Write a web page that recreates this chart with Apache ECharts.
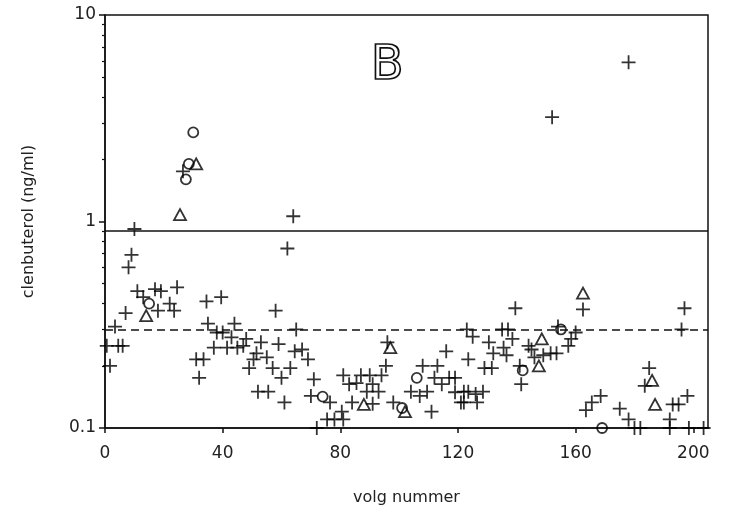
<!DOCTYPE html>
<html>
<head>
<meta charset="utf-8">
<script src="https://cdn.jsdelivr.net/npm/echarts@6/dist/echarts.min.js"></script>
<style>html,body{margin:0;padding:0;background:#fff}#c{width:735px;height:524px}</style>
</head>
<body>
<div id="c"></div>
<script>
// ---- data ----
const plusPoints = [
  [178, 5.9], [152, 3.2], [26.5, 1.75], [64, 1.06], [10, 0.92], [62, 0.74],
  [9, 0.69], [8, 0.60], [11, 0.46], [13, 0.43], [17, 0.47], [19, 0.46], [24.5, 0.48], [22, 0.40], [23.5, 0.37], [18, 0.37], [7, 0.36], [3.4, 0.31], [0.6, 0.25], [4.5, 0.25], [6, 0.25], [1.7, 0.20],
  [34.5, 0.41], [39.5, 0.43], [35, 0.32], [38, 0.29], [40, 0.29], [37, 0.245], [31, 0.215], [33.5, 0.215], [32, 0.175],
  [58, 0.37], [44, 0.32], [43, 0.275], [48, 0.27], [65, 0.30], [41.5, 0.245], [45, 0.245], [47, 0.25], [53, 0.26], [59, 0.255], [51.5, 0.23], [50.5, 0.215], [55, 0.22], [49, 0.195], [57, 0.195], [63, 0.195], [60, 0.175], [52, 0.15], [55.5, 0.15], [61, 0.133], [64.5, 0.235], [67, 0.24], [69, 0.215], [71, 0.172], [70, 0.143], [76.5, 0.133], [80.5, 0.12], [75.5, 0.11], [78, 0.11], [72, 0.1], [81, 0.18],
  [96, 0.26], [95.5, 0.20], [87, 0.18], [90, 0.18], [94, 0.18], [83, 0.163], [85.5, 0.165], [89, 0.15], [91, 0.163], [93, 0.15], [84, 0.133], [91, 0.131], [98, 0.133], [81, 0.11], [111, 0.12], [104, 0.15], [107, 0.143], [109.5, 0.15], [108, 0.20], [113, 0.20], [116, 0.235], [112, 0.175], [114.5, 0.163], [117, 0.175], [119, 0.175], [119, 0.149], [121, 0.133], [122, 0.15],
  [139.5, 0.38], [125, 0.277], [135, 0.30], [137, 0.30], [123, 0.30], [138.5, 0.27], [130.5, 0.26], [135.5, 0.245], [132, 0.23], [136.5, 0.225], [123.5, 0.215], [129, 0.195], [131.5, 0.195], [144, 0.25], [145, 0.24], [141, 0.20], [141.5, 0.163], [146, 0.22], [149, 0.225], [151.5, 0.23], [153.5, 0.23], [154, 0.31], [160, 0.29], [158.5, 0.27], [157.5, 0.25], [162.5, 0.375], [123.5, 0.15], [126, 0.146], [128.5, 0.15], [126.5, 0.133], [122, 0.133], [163.5, 0.122],
  [197, 0.38], [196, 0.30], [185, 0.195], [183.5, 0.16], [193, 0.13], [195, 0.13], [198, 0.143], [192, 0.11], [165.5, 0.133], [168.5, 0.143], [175, 0.124], [178, 0.11], [180, 0.1], [182, 0.1], [198.5, 0.1], [203.5, 0.1], [192, 0.1]
];
const trianglePoints = [
  [25.5, 1.08], [31, 1.9], [14, 0.35], [97, 0.245], [88, 0.13], [102, 0.12],
  [148.5, 0.27], [147.5, 0.20], [162.5, 0.45], [186, 0.17], [187, 0.13]
];
const circlePoints = [
  [30, 2.7], [28.5, 1.9], [27.5, 1.6], [15, 0.40], [74, 0.142], [101, 0.125],
  [106, 0.175], [142, 0.19], [155, 0.30], [169, 0.1]
];
const upperLimit = 0.9;   // solid line
const lowerLimit = 0.3;   // dashed line
const xTickValues = [0, 40, 80, 120, 160, 200];
const yMajorTicks = [0.1, 1, 10];
const yMinorTicks = [0.2, 0.3, 0.4, 0.5, 0.6, 0.7, 0.8, 0.9, 2, 3, 4, 5, 6, 7, 8, 9];
const panelLabel = 'B';
const xName = 'volg nummer';
const yName = 'clenbuterol (ng/ml)';

const FONT = 'DejaVu Sans';
const INK = '#111';
const chart = echarts.init(document.getElementById('c'), null, {renderer: 'canvas'});
const markerStyle = {color: 'rgba(0,0,0,0)', borderColor: '#000', borderWidth: 1.8};

chart.setOption({
  animation: false,
  backgroundColor: '#fff',
  grid: {left: 105, right: 27, top: 15, bottom: 96, show: true, borderColor: INK, borderWidth: 1.5, backgroundColor: 'transparent'},
  xAxis: {
    type: 'value', min: 0, max: 205,
    axisLine: {lineStyle: {color: INK, width: 1.5}},
    axisTick: {customValues: xTickValues, length: 5, lineStyle: {color: INK, width: 1.5}},
    axisLabel: {customValues: xTickValues, fontSize: 17, fontFamily: FONT, color: '#222', margin: 17},
    splitLine: {show: false},
    name: xName, nameLocation: 'middle', nameGap: 62,
    nameTextStyle: {fontSize: 16, fontFamily: FONT, color: '#222'}
  },
  yAxis: [{
    type: 'log', logBase: 10, min: 0.1, max: 10, position: 'left',
    axisLine: {lineStyle: {color: INK, width: 1.5}},
    axisTick: {customValues: yMajorTicks, length: 6, lineStyle: {color: INK, width: 1.5}},
    axisLabel: {customValues: yMajorTicks, fontSize: 17, fontFamily: FONT, color: '#222', margin: 9,
      formatter: v => String(v)},
    splitLine: {show: false},
    name: yName, nameLocation: 'middle', nameGap: 68, nameRotate: 90,
    nameTextStyle: {fontSize: 16, fontFamily: FONT, color: '#222'}
  }, {
    type: 'log', logBase: 10, min: 0.1, max: 10, position: 'left',
    axisLine: {show: false},
    axisTick: {customValues: yMinorTicks, length: 3, lineStyle: {color: INK, width: 1.2}},
    axisLabel: {show: false},
    splitLine: {show: false}
  }],
  graphic: [{
    type: 'text', left: 370, top: 42,
    style: {text: panelLabel, font: '48px "DejaVu Sans"', fill: 'rgba(0,0,0,0)', stroke: INK, lineWidth: 1.7}
  }],
  series: [{
    type: 'scatter', yAxisIndex: 0, data: plusPoints,
    symbol: 'path://M5,0 L5,10 M0,5 L10,5', symbolSize: 14,
    itemStyle: markerStyle,
    markLine: {
      silent: true, symbol: 'none', label: {show: false},
      data: [
        {yAxis: upperLimit, lineStyle: {color: INK, width: 1.5, type: 'solid'}},
        {yAxis: lowerLimit, lineStyle: {color: INK, width: 1.5, type: [8, 5]}}
      ]
    }
  }, {
    type: 'scatter', yAxisIndex: 0, data: trianglePoints,
    symbol: 'triangle', symbolSize: [12, 11],
    itemStyle: markerStyle
  }, {
    type: 'scatter', yAxisIndex: 0, data: circlePoints,
    symbol: 'circle', symbolSize: 10,
    itemStyle: markerStyle
  }]
});
</script>
</body>
</html>
